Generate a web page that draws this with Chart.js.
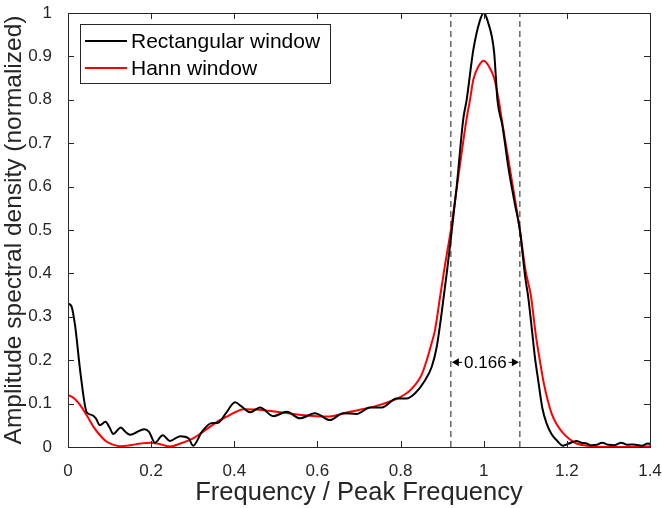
<!DOCTYPE html>
<html>
<head>
<meta charset="utf-8">
<script src="https://cdn.jsdelivr.net/npm/chart.js@4.4.1/dist/chart.umd.min.js"></script>
<style>
  html, body { margin: 0; padding: 0; background: #fff; }
  #wrap { width: 662px; height: 508px; }
</style>
</head>
<body>
<div id="wrap"><canvas id="spectrum"></canvas></div>
<script>
// Espectro normalizado: ventana rectangular
var freqRect = [0, 0.008, 0.017, 0.03, 0.045, 0.057, 0.067, 0.077, 0.09, 0.1, 0.109, 0.12, 0.127, 0.138, 0.149, 0.165, 0.183, 0.195, 0.209, 0.228, 0.245, 0.27, 0.29, 0.301, 0.322, 0.345, 0.361, 0.38, 0.402, 0.418, 0.438, 0.462, 0.494, 0.526, 0.558, 0.594, 0.63, 0.662, 0.694, 0.727, 0.755, 0.79, 0.814, 0.835, 0.859, 0.875, 0.887, 0.899, 0.911, 0.921, 0.935, 0.951, 0.959, 0.975, 0.99, 1.0, 1.01, 1.025, 1.033, 1.045, 1.06, 1.075, 1.087, 1.1, 1.107, 1.116, 1.123, 1.131, 1.141, 1.151, 1.163, 1.175, 1.191, 1.205, 1.223, 1.235, 1.247, 1.26, 1.271, 1.285, 1.3, 1.315, 1.331, 1.345, 1.36, 1.38, 1.395, 1.4];
var ampRect = [0.33, 0.325, 0.28, 0.17, 0.08, 0.074, 0.066, 0.05, 0.058, 0.045, 0.03, 0.04, 0.045, 0.035, 0.028, 0.034, 0.041, 0.035, 0.01, 0.027, 0.014, 0.025, 0.02, 0.003, 0.035, 0.055, 0.056, 0.078, 0.103, 0.093, 0.08, 0.091, 0.071, 0.081, 0.066, 0.078, 0.062, 0.078, 0.076, 0.091, 0.091, 0.112, 0.112, 0.124, 0.154, 0.185, 0.231, 0.31, 0.4, 0.48, 0.6, 0.757, 0.8, 0.915, 0.98, 1.0, 0.98, 0.91, 0.8, 0.74, 0.64, 0.56, 0.5, 0.39, 0.346, 0.27, 0.208, 0.154, 0.09, 0.055, 0.03, 0.016, 0.003, 0.008, 0.014, 0.01, 0.008, 0.004, 0.005, 0.01, 0.005, 0.004, 0.01, 0.005, 0.006, 0.003, 0.008, 0.007];

// Espectro normalizado: ventana de Hann
var freqHann = [0, 0.015, 0.029, 0.045, 0.061, 0.077, 0.093, 0.11, 0.125, 0.15, 0.175, 0.197, 0.22, 0.245, 0.27, 0.301, 0.32, 0.342, 0.362, 0.382, 0.402, 0.422, 0.46, 0.502, 0.55, 0.598, 0.622, 0.678, 0.75, 0.799, 0.82, 0.835, 0.85, 0.863, 0.875, 0.883, 0.895, 0.907, 0.921, 0.94, 0.959, 0.967, 0.975, 0.988, 1.0, 1.012, 1.025, 1.036, 1.043, 1.065, 1.087, 1.1, 1.114, 1.125, 1.135, 1.145, 1.163, 1.177, 1.191, 1.207, 1.223, 1.25, 1.3, 1.35, 1.4];
var ampHann = [0.12, 0.112, 0.097, 0.073, 0.047, 0.027, 0.012, 0.005, 0.002, 0.004, 0.008, 0.01, 0.007, 0.001, 0.008, 0.02, 0.032, 0.047, 0.06, 0.07, 0.08, 0.087, 0.086, 0.081, 0.075, 0.071, 0.07, 0.081, 0.097, 0.115, 0.128, 0.143, 0.165, 0.2, 0.24, 0.27, 0.346, 0.42, 0.5, 0.63, 0.757, 0.8, 0.846, 0.878, 0.89, 0.878, 0.85, 0.8, 0.757, 0.63, 0.5, 0.41, 0.346, 0.26, 0.2, 0.145, 0.078, 0.05, 0.032, 0.018, 0.008, 0.003, 0.0, 0.0, 0.002];

// Marcas del ancho de banda (-6 dB)
var markerFreqs = [0.921, 1.087];
var bandwidthLabel = '0.166';
var arrowLevel = 0.195;

var seriesLabels = ['Rectangular window', 'Hann window'];
var axisColor = '#262626';
var fontFamily = "'Liberation Sans', Arial, sans-serif";

function toPoints(xs, ys) {
    return xs.map(function (x, i) { return { x: x, y: ys[i] }; });
}

// Marco tipo MATLAB con marcas hacia dentro
var framePlugin = {
    id: 'frame',
    afterDraw: function (chart) {
        var ctx = chart.ctx, a = chart.chartArea;
        var xs = chart.scales.x, ys = chart.scales.y;
        ctx.save();
        ctx.strokeStyle = axisColor;
        ctx.lineWidth = 1;
        ctx.strokeRect(Math.round(a.left) + 0.5, Math.round(a.top) + 0.5, Math.round(a.right - a.left), Math.round(a.bottom - a.top));
        ctx.beginPath();
        xs.ticks.forEach(function (t) {
            var px = Math.round(xs.getPixelForValue(t.value)) + 0.5;
            ctx.moveTo(px, a.bottom); ctx.lineTo(px, a.bottom - 6);
            ctx.moveTo(px, a.top); ctx.lineTo(px, a.top + 6);
        });
        ys.ticks.forEach(function (t) {
            var py = Math.round(ys.getPixelForValue(t.value)) + 0.5;
            ctx.moveTo(a.left, py); ctx.lineTo(a.left + 6, py);
            ctx.moveTo(a.right, py); ctx.lineTo(a.right - 6, py);
        });
        ctx.stroke();
        ctx.restore();
    }
};

// Flechas y texto del ancho de banda
var bandwidthPlugin = {
    id: 'bandwidth',
    afterDatasetsDraw: function (chart) {
        var ctx = chart.ctx;
        var xs = chart.scales.x, ys = chart.scales.y;
        var x1 = xs.getPixelForValue(markerFreqs[0]);
        var x2 = xs.getPixelForValue(markerFreqs[1]);
        var y = ys.getPixelForValue(arrowLevel);
        ctx.save();
        ctx.font = '17px ' + fontFamily;
        ctx.textAlign = 'center';
        ctx.textBaseline = 'middle';
        var mid = (x1 + x2) / 2;
        var tw = ctx.measureText(bandwidthLabel).width;
        ctx.fillStyle = '#fff';
        ctx.fillRect(mid - tw / 2 - 1, y - 9, tw + 2, 18);
        ctx.fillStyle = '#000';
        ctx.fillText(bandwidthLabel, mid, y + 1);
        ctx.strokeStyle = '#000';
        ctx.lineWidth = 1;
        ctx.beginPath();
        ctx.moveTo(x1 + 2, y); ctx.lineTo(mid - tw / 2 - 2, y);
        ctx.moveTo(mid + tw / 2 + 2, y); ctx.lineTo(x2 - 2, y);
        ctx.stroke();
        ctx.beginPath();
        ctx.moveTo(x1 + 1, y); ctx.lineTo(x1 + 8, y - 4); ctx.lineTo(x1 + 8, y + 4); ctx.closePath();
        ctx.moveTo(x2 - 1, y); ctx.lineTo(x2 - 8, y - 4); ctx.lineTo(x2 - 8, y + 4); ctx.closePath();
        ctx.fill();
        ctx.restore();
    }
};

// Leyenda dentro del área del gráfico
var legendPlugin = {
    id: 'insideLegend',
    afterDraw: function (chart) {
        var ctx = chart.ctx, a = chart.chartArea;
        var left = a.left + 12, top = a.top + 11, w = 250, h = 59;
        ctx.save();
        ctx.fillStyle = '#fff';
        ctx.fillRect(left, top, w, h);
        ctx.strokeStyle = axisColor;
        ctx.lineWidth = 1;
        ctx.strokeRect(Math.round(left) + 0.5, Math.round(top) + 0.5, w, h);
        ctx.font = '21px ' + fontFamily;
        ctx.textBaseline = 'middle';
        ctx.fillStyle = '#000';
        seriesLabels.forEach(function (lbl, i) {
            var yy = top + 17 + i * 27;
            ctx.strokeStyle = chart.data.datasets[i].borderColor;
            ctx.lineWidth = 2;
            ctx.beginPath();
            ctx.moveTo(left + 5, yy); ctx.lineTo(left + 47, yy);
            ctx.stroke();
            ctx.fillText(lbl, left + 51, yy + 1);
        });
        ctx.restore();
    }
};

var dashStyle = {
    borderColor: '#1a1a1a',
    borderWidth: 1,
    borderDash: [6, 4],
    pointRadius: 0,
    fill: false
};

var ctxS = document.getElementById('spectrum').getContext('2d');
var chart = new Chart(ctxS, {
    type: 'line',
    data: {
        datasets: [{
            label: seriesLabels[0],
            data: toPoints(freqRect, ampRect),
            borderColor: '#000000',
            borderWidth: 2,
            pointRadius: 0,
            cubicInterpolationMode: 'monotone'
        },
        {
            label: seriesLabels[1],
            data: toPoints(freqHann, ampHann),
            borderColor: '#ff0000',
            borderWidth: 2,
            pointRadius: 0,
            cubicInterpolationMode: 'monotone'
        },
        Object.assign({ label: 'left', data: [{ x: markerFreqs[0], y: 0 }, { x: markerFreqs[0], y: 1 }] }, dashStyle),
        Object.assign({ label: 'right', data: [{ x: markerFreqs[1], y: 0 }, { x: markerFreqs[1], y: 1 }] }, dashStyle)
        ]
    },
    options: {
        responsive: true,
        maintainAspectRatio: false,
        animation: false,
        layout: { padding: { top: 13, right: 12, left: 0, bottom: 0 } },
        scales: {
            x: {
                type: 'linear',
                min: 0,
                max: 1.4,
                grid: { display: false },
                border: { display: false },
                ticks: {
                    stepSize: 0.2,
                    autoSkip: false,
                    maxRotation: 0,
                    padding: 6,
                    color: axisColor,
                    font: { family: fontFamily, size: 17 },
                    callback: function (v) { return String(+v.toFixed(1)); }
                },
                title: {
                    display: true,
                    text: 'Frequency / Peak Frequency',
                    color: axisColor,
                    font: { family: fontFamily, size: 25.5 },
                    padding: { top: 2, bottom: 0 }
                },
                afterFit: function (s) {
                    s.height = 61;
                    s.paddingLeft = 0;
                    s.paddingRight = 0;
                }
            },
            y: {
                min: 0,
                max: 1,
                grid: { display: false },
                border: { display: false },
                ticks: {
                    stepSize: 0.1,
                    padding: 8,
                    color: axisColor,
                    font: { family: fontFamily, size: 17 },
                    callback: function (v) { return String(+v.toFixed(1)); }
                },
                title: {
                    display: true,
                    text: 'Amplitude spectral density (normalized)',
                    color: axisColor,
                    font: { family: fontFamily, size: 24.5 },
                    padding: { top: 0, bottom: 3 }
                },
                afterFit: function (s) {
                    s.width = 68;
                    s.paddingTop = 0;
                    s.paddingBottom = 0;
                }
            }
        },
        plugins: {
            legend: { display: false },
            tooltip: { enabled: false }
        }
    },
    plugins: [bandwidthPlugin, framePlugin, legendPlugin]
});
</script>
</body>
</html>
